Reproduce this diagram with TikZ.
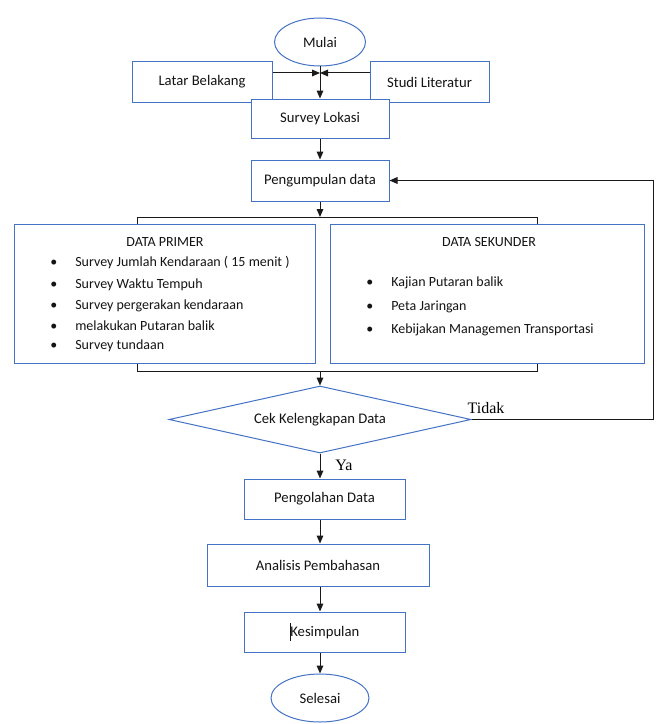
\documentclass[tikz,border=0pt]{standalone}
\usepackage{fontspec}
\setmainfont{Carlito}
\newfontfamily\hurufserif{Liberation Serif}
\usetikzlibrary{shapes.geometric,arrows.meta}
\definecolor{kotakbiru}{HTML}{4472C4}
\definecolor{garishitam}{HTML}{1A1A1A}
\definecolor{tinta}{HTML}{141414}

\begin{document}
\begin{tikzpicture}[x=0.75pt, y=-0.75pt, >={Triangle[length=6pt,width=5pt]},
                    every node/.style={tinta, font=\fontsize{11}{13}\selectfont},
                    kotak/.style={draw=kotakbiru, line width=0.75pt, fill=white, rectangle, inner sep=0pt},
                    elips/.style={draw=kotakbiru, line width=0.75pt, fill=white, ellipse, inner sep=0pt},
                    belah/.style={draw=kotakbiru, line width=0.75pt, fill=white, diamond, aspect=4.5, inner sep=1pt},
                    garis/.style={garishitam, line width=0.75pt},
                    panah/.style={garishitam, line width=0.75pt, ->},
                    butir/.style={anchor=west, inner sep=0pt, font=\fontsize{10.5}{12}\selectfont},
                    keputusan/.style={black, font=\hurufserif\fontsize{12}{14}\selectfont, inner sep=0pt}]

\useasboundingbox (0,0) rectangle (658,724);

%% ==== 上段: 開始與前置步驟 =============================================
\node[elips, minimum width=68.25pt, minimum height=36pt] (mulai) at (320,42) {Mulai};
\node[kotak, minimum width=105pt, minimum height=30pt] (latar) at (202,82) {Latar Belakang};
\node[kotak, minimum width=89.25pt, minimum height=30pt] (studi) at (429.5,82) {Studi Literatur};
\node[kotak, minimum width=103.5pt, minimum height=29.25pt] (survei) at (320,118.5) {Survey Lokasi};
\node[kotak, minimum width=103.5pt, minimum height=30.75pt] (kumpul) at (320,180.5) {Pengumpulan data};

%% ==== 中段: 兩類資料 ===================================================
\node[kotak, minimum width=225.75pt, minimum height=104.25pt] (primer) at (164.5,293.5) {};
\node[kotak, minimum width=235.5pt, minimum height=104.25pt] (sekunder) at (487,293.5) {};

%% 初級資料
\node[inner sep=0pt, font=\fontsize{10.5}{12}\selectfont] (judulprimer) at (165,242) {DATA PRIMER};
\node[butir] (primer1) at (50,263) {\makebox[18.75pt][l]{\textbullet}Survey Jumlah Kendaraan ( 15 menit )};
\node[butir] (primer2) at (50,285) {\makebox[18.75pt][l]{\textbullet}Survey Waktu Tempuh};
\node[butir] (primer3) at (50,306) {\makebox[18.75pt][l]{\textbullet}Survey pergerakan kendaraan};
\node[butir] (primer4) at (50,326) {\makebox[18.75pt][l]{\textbullet}melakukan Putaran balik};
\node[butir] (primer5) at (50,346) {\makebox[18.75pt][l]{\textbullet}Survey tundaan};

%% 次級資料
\node[inner sep=0pt, font=\fontsize{10.5}{12}\selectfont] (judulsekunder) at (489,242) {DATA SEKUNDER};
\node[butir] (sekunder1) at (366,283) {\makebox[18.75pt][l]{\textbullet}Kajian Putaran balik};
\node[butir] (sekunder2) at (366,307) {\makebox[18.75pt][l]{\textbullet}Peta Jaringan};
\node[butir] (sekunder3) at (366,330) {\makebox[18.75pt][l]{\textbullet}Kebijakan Managemen Transportasi};

%% ==== 下段: 檢查與後續步驟 =============================================
\node[belah, minimum width=226.5pt, minimum height=50.25pt] (cek) at (320,419.5) {Cek Kelengkapan Data};
\node[kotak, minimum width=120.75pt, minimum height=30pt] (olah) at (324.5,499) {Pengolahan Data};
\node[kotak, minimum width=166.5pt, minimum height=31.5pt] (analisis) at (318,565) {Analisis Pembahasan};
\node[kotak, minimum width=120.75pt, minimum height=30pt] (simpul) at (324.5,632) {\rule[-0.6ex]{0.5pt}{2.6ex}Kesimpulan};
\node[elips, minimum width=73.5pt, minimum height=36pt] (selesai) at (320,698) {Selesai};

%% 判斷的兩個出口
\node[keputusan] (tidak) at (486,408) {Tidak};
\node[keputusan] (ya) at (344,465) {Ya};

%% ==== 連線 =============================================================
\coordinate (sumbu) at (320,0);
\coordinate (temu) at (320,73);
\coordinate (cabangkiri) at (137,217);
\coordinate (cabangkanan) at (537,217);
\coordinate (gabungkiri) at (137,371);
\coordinate (gabungkanan) at (537,371);
\coordinate (balik) at (653,0);

\draw[panah] (latar.east |- temu) -- (temu);
\draw[panah] (studi.west |- temu) -- (temu);
\draw[panah] (mulai.south) -- (survei.north);
\draw[panah] (survei.south) -- (kumpul.north);
\draw[panah] (kumpul.south) -- (kumpul.south |- cabangkiri);

%% 分岔與匯合
\draw[garis] (primer.north -| cabangkiri) -- (cabangkiri) -- (cabangkanan) -- (sekunder.north -| cabangkanan);
\draw[garis] (primer.south -| gabungkiri) -- (gabungkiri) -- (gabungkanan) -- (sekunder.south -| gabungkanan);
\draw[panah] (gabungkiri -| sumbu) -- (cek.north);

%% 資料不全時回到蒐集
\draw[panah] (cek.east) -- (cek.east -| balik) -- (kumpul.east -| balik) -- (kumpul.east);

\draw[panah] (cek.south) -- (olah.north -| sumbu);
\draw[panah] (olah.south -| sumbu) -- (analisis.north -| sumbu);
\draw[panah] (analisis.south -| sumbu) -- (simpul.north -| sumbu);
\draw[panah] (simpul.south -| sumbu) -- (selesai.north);

\end{tikzpicture}
\end{document}
